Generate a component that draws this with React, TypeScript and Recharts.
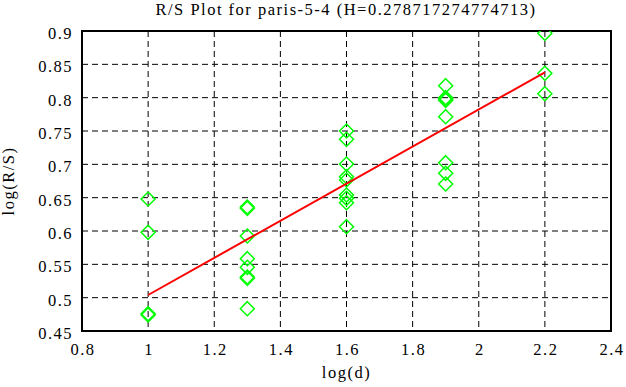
import {
  ScatterChart,
  Scatter,
  XAxis,
  YAxis,
  CartesianGrid,
  ReferenceArea,
} from "recharts";

const TITLE = "R/S Plot for paris-5-4 (H=0.278717274774713)";

// log(d) values and log(R/S) samples
const logD = [1, 1, 1, 1, 1.3, 1.3, 1.3, 1.3, 1.3, 1.3, 1.3, 1.3, 1.6, 1.6, 1.6, 1.6, 1.6, 1.6, 1.6, 1.6, 1.6, 1.9, 1.9, 1.9, 1.9, 1.9, 1.9, 1.9, 1.9, 2.2, 2.2, 2.2];
const logRS = [0.648, 0.598, 0.476, 0.474, 0.636, 0.634, 0.5925, 0.5585, 0.5455, 0.531, 0.529, 0.4835, 0.75, 0.7375, 0.7005, 0.6815, 0.6765, 0.654, 0.649, 0.6425, 0.6065, 0.818, 0.8, 0.798, 0.796, 0.7715, 0.7025, 0.6865, 0.6705, 0.8965, 0.8365, 0.806];

// fitted line end points
const fitX = [1, 2.2];
const fitY = [0.504, 0.838];

const xTicks = [0.8, 1, 1.2, 1.4, 1.6, 1.8, 2, 2.2, 2.4];
const yTicks = [0.45, 0.5, 0.55, 0.6, 0.65, 0.7, 0.75, 0.8, 0.85, 0.9];

const points = logD.map((x, i) => ({ x, y: logRS[i] }));
const fitLine = fitX.map((x, i) => ({ x, y: fitY[i] }));

const FONT = "'Liberation Serif', 'Times New Roman', serif";
const FS = 16.5;

const Diamond = (props: any) => {
  const { cx, cy } = props;
  const r = 7;
  return (
    <polygon
      points={`${cx},${cy - r} ${cx + r},${cy} ${cx},${cy + r} ${cx - r},${cy}`}
      fill="none"
      stroke="#00ff00"
      strokeWidth={1.5}
    />
  );
};

const NoDot = () => <g />;

const fmt = (v: number) => String(v);

export default function App() {
  return (
    <div style={{ position: "absolute", left: 0, top: 0, width: 626, height: 387, background: "#fff", fontFamily: FONT }}>
      <style>{`.recharts-wrapper text { font-family: ${FONT} !important; letter-spacing: 1.5px; }`}</style>
      <div
        style={{
          position: "absolute",
          left: 0,
          width: 692,
          top: 0,
          textAlign: "center",
          fontSize: FS,
          letterSpacing: 1.5,
          lineHeight: "20px",
        }}
      >
        {TITLE}
      </div>
      <ScatterChart
        width={626}
        height={387}
        margin={{ top: 31, right: 15, bottom: 9, left: 0 }}
      >
        <CartesianGrid
          stroke="#000"
          strokeDasharray="6 4"
          horizontalValues={yTicks}
          verticalValues={xTicks}
        />
        <XAxis
          type="number"
          dataKey="x"
          domain={[0.8, 2.4]}
          ticks={xTicks}
          tickFormatter={fmt}
          height={47}
          tickSize={0}
          tickMargin={12}
          axisLine={false}
          tickLine={false}
          tick={{ fill: "#000", fontSize: FS, fontFamily: FONT, dx: 1 }}
          allowDataOverflow
          label={{ value: "log(d)", position: "insideBottom", offset: 0, fill: "#000", fontSize: FS, fontFamily: FONT }}
        />
        <YAxis
          type="number"
          dataKey="y"
          domain={[0.45, 0.9]}
          ticks={yTicks}
          tickFormatter={fmt}
          width={82}
          tickSize={0}
          tickMargin={9}
          axisLine={false}
          tickLine={false}
          tick={{ fill: "#000", fontSize: FS, fontFamily: FONT, dy: 2 }}
          allowDataOverflow
          label={{ value: "log(R/S)", angle: -90, position: "insideLeft", offset: 8, textAnchor: "middle", fill: "#000", fontSize: FS, fontFamily: FONT }}
        />
        <YAxis
          yAxisId="right"
          orientation="right"
          type="number"
          domain={[0.45, 0.9]}
          ticks={yTicks}
          width={0}
          mirror
          tick={false}
          tickSize={6}
          tickLine={{ stroke: "#000", strokeWidth: 1.5 }}
          axisLine={false}
        />
        <ReferenceArea
          x1={0.8}
          x2={2.4}
          y1={0.45}
          y2={0.9}
          fill="none"
          stroke="#000"
          strokeWidth={2}
          ifOverflow="extendDomain"
        />
        <Scatter data={points} shape={Diamond} isAnimationActive={false} />
        <Scatter
          data={fitLine}
          shape={NoDot}
          line={{ stroke: "#ff0000", strokeWidth: 2 }}
          isAnimationActive={false}
        />
      </ScatterChart>
    </div>
  );
}
